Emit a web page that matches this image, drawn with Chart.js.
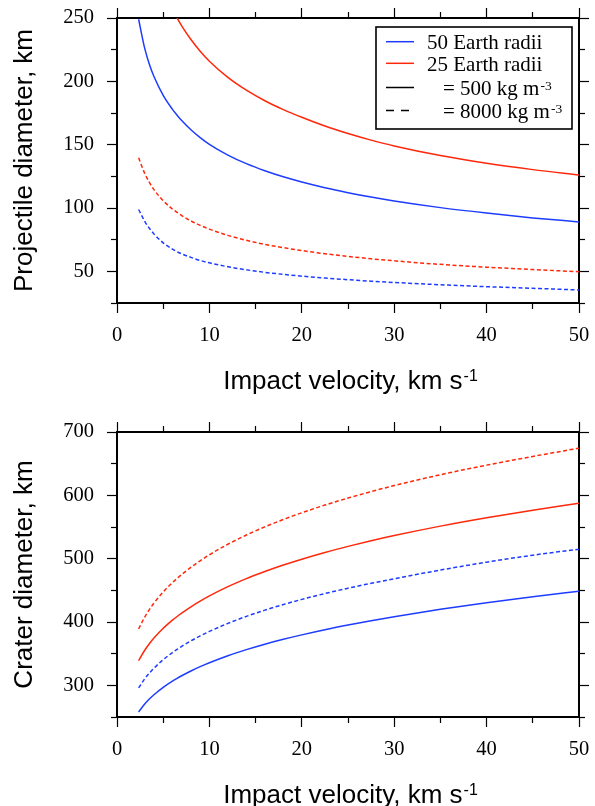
<!DOCTYPE html>
<html>
<head>
<meta charset="utf-8">
<script src="https://cdn.jsdelivr.net/npm/chart.js@4"></script>
<style>
  body { margin: 0; background: #fff; width: 595px; height: 806px; overflow: hidden; position: relative; }
  canvas { position: absolute; left: 0; }
  #topChart { top: 0; }
  #bottomChart { top: 410px; }
</style>
</head>
<body>
<canvas id="topChart" width="595" height="410"></canvas>
<canvas id="bottomChart" width="595" height="396"></canvas>
<script>
// impact velocity, km/s
const velocity = [2.34, 3, 3.5, 4, 5, 6, 6.5, 7, 8, 9, 10, 12, 14, 16, 18, 20, 22.5, 25, 27.5, 30, 35, 40, 45, 50];

// projectile diameter, km
const projBlue500 = [249, 226, 213.5, 203.8, 188.9, 177.9, 173.3, 169.1, 161.8, 155.6, 150.3, 141.8, 135, 129.4, 124.6, 120.5, 116, 112.1, 108.6, 105.5, 100.3, 96, 92.2, 89];
const projRed500 = [null, null, null, null, null, null, 250, 243.8, 233, 223.8, 215.9, 203.1, 193, 184.7, 177.7, 171.6, 164.7, 158.8, 153.6, 149, 141.4, 135.3, 130.3, 126];
const projBlue8000 = [98.8, 89.5, 84, 79.5, 72.5, 67.5, 65.5, 63.8, 61, 58.6, 56.7, 53.6, 51.2, 49.2, 47.6, 46.2, 44.7, 43.4, 42.2, 41.2, 39.4, 37.9, 36.6, 35.3];
const projRed8000 = [139.6, 127.3, 120.3, 114.5, 105.7, 99.2, 96.5, 94, 89.8, 86.3, 83.3, 78.4, 74.5, 71.3, 68.7, 66.4, 63.9, 61.8, 59.9, 58.3, 55.5, 53.3, 51.4, 49.7];

// crater diameter, km
const craterBlue500 = [258, 270.5, 278.3, 285.1, 296.8, 306.6, 311, 315.1, 322.7, 329.5, 335.7, 346.8, 356.4, 365, 372.7, 379.7, 387.8, 395.1, 401.9, 408.2, 420, 430.5, 440, 448.5];
const craterRed500 = [339, 355.4, 365.7, 374.6, 390, 402.9, 408.7, 414.1, 424, 433, 441.2, 455.8, 468.5, 479.7, 489.9, 499.2, 509.8, 519.4, 528.3, 536.5, 551.4, 564.6, 576.6, 587.5];
const craterBlue8000 = [296, 310.3, 319.3, 327.1, 340.5, 351.7, 356.7, 361.5, 370.2, 378, 385.1, 397.8, 408.9, 418.7, 427.6, 435.7, 444.9, 453.3, 461.1, 468.3, 482, 494.5, 505.5, 515];
const craterRed8000 = [389, 407.8, 419.6, 429.8, 447.4, 462.2, 468.8, 475, 486.4, 496.7, 506.1, 522.8, 537.3, 550.2, 561.9, 572.5, 584.6, 595.7, 605.9, 615.4, 632.5, 647.7, 661.4, 674.5];

const legendLabels = ['50 Earth radii', '25 Earth radii', '= 500 kg m', '= 8000 kg m'];

const BLUE = 'rgb(30,60,255)';
const RED = 'rgb(255,40,10)';
const serif = 'Liberation Serif';
const sans = 'Liberation Sans';

function pts(vals) {
    return velocity.map((v, i) => ({ x: v, y: vals[i] }));
}

function line(vals, color, dashed) {
    return {
        data: pts(vals),
        borderColor: color,
        borderWidth: 1.5,
        borderDash: dashed ? [4, 2.5] : [],
        pointRadius: 0,
        cubicInterpolationMode: 'monotone',
        fill: false,
        xAxisID: 'x',
        yAxisID: 'y'
    };
}

// long ticks on labelled values, short ones in between (done with a dash)
function tickDash(major) {
    return (ctx) => {
        if (!ctx.tick || major(ctx.tick.value)) return [];
        return [5, 100];
    };
}
function tickOffset(major, outerFirst) {
    return (ctx) => {
        if (!ctx.tick || major(ctx.tick.value) || !outerFirst) return 0;
        return 101;
    };
}

function edgeAxis(pos, min, max, step, major, size, labelled, title) {
    const outerFirst = (pos === 'left' || pos === 'top');
    const horiz = (pos === 'top' || pos === 'bottom');
    return {
        type: 'linear',
        position: pos,
        min: min,
        max: max,
        border: { display: true, color: '#000', width: 2 },
        grid: {
            drawOnChartArea: false,
            drawTicks: true,
            tickLength: 10,
            tickColor: '#000',
            tickWidth: 1.2,
            tickBorderDash: tickDash(major),
            tickBorderDashOffset: tickOffset(major, outerFirst)
        },
        ticks: {
            display: labelled,
            stepSize: step,
            autoSkip: false,
            maxRotation: 0,
            padding: horiz ? 10 : 13,
            color: '#000',
            font: { family: serif, size: 20.5 },
            callback: (v) => major(v) ? v : ''
        },
        title: title ? {
            display: true,
            text: title,
            color: '#000',
            font: { family: sans, size: 26 },
            padding: { top: 9, bottom: 0 }
        } : { display: false },
        afterFit: (scale) => {
            if (horiz) scale.height = size; else scale.width = size;
            scale.paddingLeft = 0;
            scale.paddingRight = 0;
            scale.paddingTop = 0;
            scale.paddingBottom = 0;
        }
    };
}

const extras = {
    id: 'extras',
    afterDraw(chart, args, opts) {
        const ctx = chart.ctx;
        const a = chart.chartArea;
        ctx.save();
        // x axis title with superscript
        ctx.fillStyle = '#000';
        ctx.textBaseline = 'alphabetic';
        ctx.font = '26px "' + sans + '"';
        const main = 'Impact velocity, km s';
        const w1 = ctx.measureText(main).width;
        ctx.font = '16px "' + sans + '"';
        const w2 = ctx.measureText('-1').width;
        const x0 = (a.left + a.right) / 2 + 2 - (w1 + w2) / 2;
        const base = a.bottom + 85.5;
        ctx.font = '26px "' + sans + '"';
        ctx.fillText(main, x0, base);
        ctx.font = '16px "' + sans + '"';
        ctx.fillText('-1', x0 + w1 + 1, base - 8);

        if (opts.legend) {
            const bx = a.right - 203, by = a.top + 9;
            ctx.fillStyle = '#fff';
            ctx.fillRect(bx, by, 196, 102);
            ctx.strokeStyle = '#000';
            ctx.lineWidth = 1.6;
            ctx.strokeRect(bx, by, 196, 102);
            const rows = [23.7, 45.3, 69.5, 92.5];
            const colors = [BLUE, RED, '#000', '#000'];
            const dashes = [[], [], [], [8, 7]];
            rows.forEach((r, i) => {
                const y = a.top + r;
                ctx.beginPath();
                ctx.setLineDash(dashes[i]);
                ctx.strokeStyle = colors[i];
                ctx.lineWidth = 1.5;
                ctx.moveTo(bx + 10, y);
                ctx.lineTo(bx + 38, y);
                ctx.stroke();
                ctx.setLineDash([]);
                ctx.fillStyle = '#000';
                ctx.font = '21px "' + serif + '"';
                const tx = bx + (i < 2 ? 51 : 67);
                ctx.fillText(legendLabels[i], tx, y + 7.5);
                if (i >= 2) {
                    const tw = ctx.measureText(legendLabels[i]).width;
                    ctx.font = '13.5px "' + serif + '"';
                    ctx.fillText('-3', tx + tw + 1, y + 2);
                }
            });
        }
        ctx.restore();
    }
};

function makeChart(id, datasets, ymin, ymax, ystep, ymajor, ytitle, topH, bottomH, legend) {
    const xmajor = (v) => v % 10 === 0;
    new Chart(document.getElementById(id), {
        type: 'line',
        data: { datasets: datasets },
        options: {
            responsive: false,
            animation: false,
            devicePixelRatio: 1,
            layout: { padding: 0 },
            scales: {
                x: edgeAxis('bottom', 0, 50, 5, xmajor, bottomH, true, null),
                y: edgeAxis('left', ymin, ymax, ystep, ymajor, 117, true, ytitle),
                xTop: edgeAxis('top', 0, 50, 5, xmajor, topH, false, null),
                yRight: edgeAxis('right', ymin, ymax, ystep, ymajor, 16, false, null)
            },
            plugins: {
                legend: { display: false },
                tooltip: { enabled: false },
                extras: { legend: legend }
            }
        },
        plugins: [extras]
    });
}

makeChart('topChart', [
    line(projBlue500, BLUE, false),
    line(projRed500, RED, false),
    line(projRed8000, RED, true),
    line(projBlue8000, BLUE, true)
], 25, 250, 25, (v) => v % 50 === 0, 'Projectile diameter, km', 18, 107, true);

makeChart('bottomChart', [
    line(craterBlue500, BLUE, false),
    line(craterRed500, RED, false),
    line(craterBlue8000, BLUE, true),
    line(craterRed8000, RED, true)
], 250, 700, 50, (v) => v % 100 === 0, 'Crater diameter, km', 22, 89, false);
</script>
</body>
</html>
